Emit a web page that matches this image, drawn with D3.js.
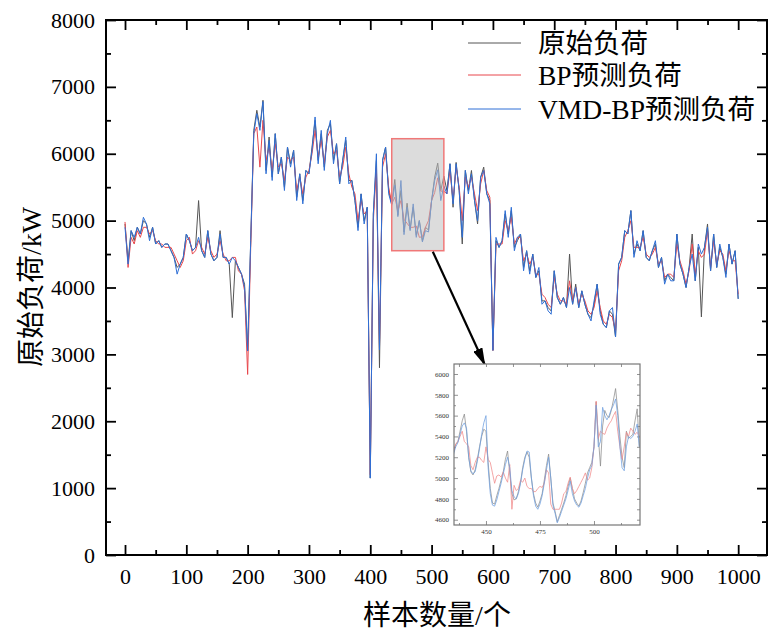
<!DOCTYPE html>
<html>
<head>
<meta charset="utf-8">
<script src="https://d3js.org/d3.v7.min.js"></script>
<style>
  body { margin: 0; background: #fff; }
  svg { display: block; }
</style>
</head>
<body>
<svg id="chart" width="768" height="633"></svg>
<script>
// main series: one value every STEP samples, from sample 0 to 1000
var STEP = 5;

var rawLoad = [
  4950,4400,4850,4700,4900,4800,5000,4950,4750,4900,
  4650,4700,4600,4650,4650,4550,4450,4300,4350,4450,
  4800,4700,4550,4600,5300,4550,4450,4850,4500,4400,
  4450,4850,4450,4450,4350,3550,4400,4300,4200,4050,
  3050,4700,6350,6650,6400,6800,5750,6250,5650,6300,
  5700,5950,5500,6100,5850,6050,5350,5700,5300,5750,
  5700,6100,6500,5900,6300,5800,6350,6450,5900,6150,
  5550,5900,6200,5600,5600,5300,4900,5400,5000,5200,
  1150,5100,5900,2800,5900,6100,5450,5250,5615,5080,
  5450,4830,5260,4870,5200,4780,5000,4700,4900,4860,
  5300,5650,5860,5450,5665,5450,5850,5200,5870,5450,
  4650,5750,5450,5750,5300,4950,5650,5800,5400,5300,
  3060,4700,4600,4700,5100,4800,5150,4600,4700,4800,
  4300,4550,4250,4500,4150,4250,3800,3800,3700,3650,
  4250,3850,3750,3850,3700,4500,3750,4050,3700,3950,
  3750,3600,3550,3750,4050,3650,3450,3400,3650,3600,
  3260,4350,4450,4850,4800,5150,4500,4650,4550,4850,
  4450,4400,4550,4650,4300,4450,4100,4200,4150,4100,
  4800,4350,4200,4000,4300,4800,4100,4600,3560,4600,
  4950,4250,4800,4300,4600,4450,4200,4650,4350,4550,
  3830
];

var bpLoad = [
  4980,4300,4750,4650,4850,4750,4900,4900,4800,4850,
  4700,4650,4650,4600,4600,4600,4500,4400,4300,4400,
  4700,4750,4500,4550,4700,4600,4500,4750,4550,4450,
  4500,4700,4500,4400,4400,4450,4450,4250,4200,3950,
  2700,4600,6300,6400,5800,6500,5900,6100,5750,6150,
  5800,5850,5600,5950,5900,5950,5450,5650,5400,5650,
  5750,6000,6350,5950,6200,5850,6250,6350,6000,6050,
  5650,5800,6100,5700,5500,5400,5000,5300,5100,5150,
  1200,5000,5800,3100,5800,6000,5500,5250,5350,5150,
  5300,5020,4960,4900,4900,4920,4750,4760,4900,5000,
  5300,5420,5640,5440,5440,5400,5750,5300,5800,5500,
  5000,5650,5500,5650,5400,5150,5550,5750,5450,5350,
  3060,4650,4650,4650,5000,4850,5050,4650,4750,4750,
  4400,4500,4350,4450,4200,4200,3900,3850,3750,3700,
  4150,3900,3800,3800,3750,4100,3800,4000,3750,3900,
  3800,3650,3600,3700,3950,3700,3500,3450,3600,3550,
  3350,4250,4400,4750,4850,5000,4600,4600,4600,4750,
  4500,4450,4500,4600,4350,4400,4150,4200,4200,4150,
  4650,4400,4250,4050,4250,4650,4200,4550,4450,4500,
  4850,4300,4700,4350,4550,4500,4250,4550,4400,4400,
  3900
];

var vmdLoad = [
  4900,4350,4850,4750,4900,4800,5050,4950,4700,4900,
  4650,4700,4600,4650,4650,4550,4450,4200,4350,4450,
  4800,4700,4550,4600,4750,4550,4450,4850,4500,4400,
  4450,4800,4450,4450,4350,4450,4400,4300,4200,4000,
  3050,4700,6300,6600,6350,6780,5700,6200,5600,6300,
  5700,5950,5450,6100,5800,6050,5300,5700,5250,5750,
  5700,6050,6550,5850,6350,5750,6300,6500,5850,6150,
  5550,5900,6250,5550,5600,5300,4850,5400,4950,5200,
  1150,5100,6000,3070,5900,6100,5400,5230,5530,5060,
  5600,4790,5200,4850,5250,4750,5000,4680,4850,4830,
  5300,5600,5760,5300,5520,5400,5850,5250,5850,5450,
  4750,5750,5400,5700,5300,5000,5650,5750,5400,5250,
  3060,4750,4600,4700,5150,4750,5200,4550,4750,4800,
  4250,4550,4200,4500,4150,4300,3750,3800,3650,3600,
  4250,3850,3750,3850,3700,4000,3750,4000,3700,3950,
  3750,3600,3500,3800,4050,3600,3450,3400,3650,3700,
  3260,4350,4450,4850,4800,5150,4450,4700,4550,4850,
  4450,4400,4550,4700,4300,4450,4050,4200,4100,4100,
  4800,4350,4200,4000,4300,4500,4100,4650,4500,4600,
  4900,4250,4800,4300,4650,4450,4150,4650,4350,4550,
  3830
];

// inset series: one value per sample, from sample 434 to 521
var zoomStart = 434;

var zoomRaw = [
  5150,5250,5320,5350,5450,5550,5615,5450,5200,5060,
  5030,5080,5180,5300,5400,5470,5450,5150,4900,4760,
  4750,4830,4900,4980,5060,5180,5260,5050,4850,4790,
  4800,4870,4960,5100,5200,5250,5200,5000,4850,4760,
  4720,4780,4850,4980,5120,5230,5000,4760,4680,4580,
  4640,4700,4760,4830,4920,5000,4900,4800,4760,4730,
  4780,4860,4950,5050,5100,5150,5300,5730,5400,5115,
  5500,5650,5600,5580,5650,5750,5860,5650,5400,5200,
  5100,5450,5380,5400,5420,5550,5665,5300
];

var zoomBp = [
  5100,5250,5330,5350,5400,5450,5350,5330,5300,5120,
  5080,5150,5200,5200,5170,5150,5300,5180,5150,5050,
  4950,5020,5030,5010,5060,5000,4960,5130,4700,4930,
  4880,4900,4980,4960,5000,4920,4900,4900,4870,4870,
  4900,4920,4910,4950,5080,5050,4750,4700,4700,4700,
  4700,4760,4850,4870,4950,5010,4900,4850,4880,4920,
  4960,5000,5050,4980,5000,5100,5300,5740,5380,5450,
  5430,5420,5480,5520,5550,5600,5640,5450,5300,5180,
  5300,5440,5400,5480,5450,5420,5440,5400
];

var zoomVmd = [
  5120,5230,5300,5340,5420,5500,5530,5480,5200,5070,
  5040,5060,5160,5280,5420,5530,5600,5100,4850,4740,
  4730,4790,4870,4950,5040,5130,5200,5100,4880,4820,
  4800,4850,4950,5080,5180,5260,5250,5010,4830,4730,
  4700,4750,4830,4950,5080,5200,5000,4740,4660,4570,
  4620,4680,4740,4800,4880,4970,4850,4780,4740,4720,
  4760,4830,4900,5000,5080,5120,5300,5700,5300,5350,
  5680,5600,5560,5600,5660,5700,5760,5600,5300,5100,
  5070,5300,5400,5380,5400,5450,5520,5300
];

var seriesNames = ['原始负荷', 'BP预测负荷', 'VMD-BP预测负荷'];
var seriesColors = ['#555555', '#e8474c', '#2e6fd6'];

var xTicks = d3.range(0, 1001, 100);
var xMinor = d3.range(50, 1000, 100);
var yTicks = d3.range(0, 8001, 1000);
var yMinor = d3.range(500, 8000, 1000);

// region that is blown up in the inset
var zoomBox = { x0: 435, x1: 520, y0: 4550, y1: 6225 };
var zoomXTicks = [450, 475, 500];
var zoomXMinor = [437.5, 462.5, 487.5, 512.5];
var zoomYTicks = d3.range(4600, 6001, 200);
var zoomYMinor = d3.range(4700, 6000, 200);

var serif = '"Liberation Serif","Times New Roman",serif';
var cnFont = '"Liberation Serif","Noto Sans CJK SC",serif';
var plain = d3.format('d');

var svg = d3.select('#chart');

var L = 106, R = 767, T = 20, B = 555;
var x = d3.scaleLinear().domain([-31, 1047]).range([L, R]);
var y = d3.scaleLinear().domain([0, 8000]).range([B, T]);

function styleAxis(g, size) {
  g.select('.domain').remove();
  g.selectAll('.tick line').attr('stroke', '#000').attr('stroke-width', size);
  g.selectAll('.tick text').attr('fill', '#000').style('font-family', serif);
}

// main axes, ticks point inward on all four sides
svg.append('g').attr('transform', 'translate(0,' + B + ')')
  .call(d3.axisBottom(x).tickValues(xTicks).tickFormat(plain).tickSize(-10).tickSizeOuter(0).tickPadding(13))
  .call(function(g) { styleAxis(g, 1.8); g.selectAll('text').style('font-size', '22px'); });
svg.append('g').attr('transform', 'translate(0,' + B + ')')
  .call(d3.axisBottom(x).tickValues(xMinor).tickSize(-5).tickSizeOuter(0).tickFormat(''))
  .call(function(g) { styleAxis(g, 1.8); });
svg.append('g').attr('transform', 'translate(0,' + T + ')')
  .call(d3.axisTop(x).tickValues(xTicks).tickSize(-10).tickSizeOuter(0).tickFormat(''))
  .call(function(g) { styleAxis(g, 1.8); });
svg.append('g').attr('transform', 'translate(0,' + T + ')')
  .call(d3.axisTop(x).tickValues(xMinor).tickSize(-5).tickSizeOuter(0).tickFormat(''))
  .call(function(g) { styleAxis(g, 1.8); });

svg.append('g').attr('transform', 'translate(' + L + ',0)')
  .call(d3.axisLeft(y).tickValues(yTicks).tickFormat(plain).tickSize(-10).tickSizeOuter(0).tickPadding(11))
  .call(function(g) { styleAxis(g, 1.8); g.selectAll('text').style('font-size', '22px'); });
svg.append('g').attr('transform', 'translate(' + L + ',0)')
  .call(d3.axisLeft(y).tickValues(yMinor).tickSize(-5).tickSizeOuter(0).tickFormat(''))
  .call(function(g) { styleAxis(g, 1.8); });
svg.append('g').attr('transform', 'translate(' + R + ',0)')
  .call(d3.axisRight(y).tickValues(yTicks).tickSize(-10).tickSizeOuter(0).tickFormat(''))
  .call(function(g) { styleAxis(g, 1.8); });
svg.append('g').attr('transform', 'translate(' + R + ',0)')
  .call(d3.axisRight(y).tickValues(yMinor).tickSize(-5).tickSizeOuter(0).tickFormat(''))
  .call(function(g) { styleAxis(g, 1.8); });

// clip + lines
svg.append('clipPath').attr('id', 'plotClip')
  .append('rect').attr('x', L).attr('y', T).attr('width', R - L).attr('height', B - T);

var mainLine = d3.line()
  .x(function(d, i) { return x(i * STEP); })
  .y(function(d) { return y(d); });

var plot = svg.append('g').attr('clip-path', 'url(#plotClip)');
[rawLoad, bpLoad, vmdLoad].forEach(function(s, k) {
  plot.append('path').datum(s)
    .attr('d', mainLine)
    .attr('fill', 'none')
    .attr('stroke', seriesColors[k])
    .attr('stroke-width', 1)
    .attr('stroke-linejoin', 'round');
});

svg.append('rect')
  .attr('x', L).attr('y', T).attr('width', R - L).attr('height', B - T)
  .attr('fill', 'none').attr('stroke', '#000').attr('stroke-width', 2);

// highlighted region
svg.append('rect')
  .attr('x', x(zoomBox.x0)).attr('y', y(zoomBox.y1))
  .attr('width', x(zoomBox.x1) - x(zoomBox.x0))
  .attr('height', y(zoomBox.y0) - y(zoomBox.y1))
  .attr('fill', '#c0c0c0').attr('fill-opacity', 0.55)
  .attr('stroke', '#f07878').attr('stroke-width', 1.5);

// inset
var iL = 454, iR = 640, iT = 364, iB = 525;
var ix = d3.scaleLinear().domain([435.2, 521.3]).range([iL, iR]);
var iy = d3.scaleLinear().domain([4549, 6096]).range([iB, iT]);

// arrow from the box to the inset
svg.append('defs').append('marker')
  .attr('id', 'arrowHead')
  .attr('viewBox', '0 0 18 10')
  .attr('refX', 17).attr('refY', 5)
  .attr('markerWidth', 18).attr('markerHeight', 10)
  .attr('markerUnits', 'userSpaceOnUse')
  .attr('orient', 'auto')
  .append('path').attr('d', 'M0,0L18,5L0,10z').attr('fill', '#000');

svg.append('line')
  .attr('x1', x(502)).attr('y1', y(zoomBox.y0) + 1)
  .attr('x2', ix(449.5)).attr('y2', iT + 1)
  .attr('stroke', '#000').attr('stroke-width', 2.2)
  .attr('marker-end', 'url(#arrowHead)');

var inset = svg.append('g');
inset.append('rect').attr('x', iL).attr('y', iT).attr('width', iR - iL).attr('height', iB - iT)
  .attr('fill', '#fff');

function styleInset(g) {
  g.select('.domain').remove();
  g.selectAll('.tick line').attr('stroke', '#777').attr('stroke-width', 0.8);
  g.selectAll('.tick text').attr('fill', '#333').style('font-family', serif).style('font-size', '7px');
}

inset.append('g').attr('transform', 'translate(0,' + iB + ')')
  .call(d3.axisBottom(ix).tickValues(zoomXTicks).tickFormat(plain).tickSize(-4).tickSizeOuter(0).tickPadding(4))
  .call(styleInset);
inset.append('g').attr('transform', 'translate(0,' + iB + ')')
  .call(d3.axisBottom(ix).tickValues(zoomXMinor).tickSize(-2).tickSizeOuter(0).tickFormat(''))
  .call(styleInset);
inset.append('g').attr('transform', 'translate(0,' + iT + ')')
  .call(d3.axisTop(ix).tickValues(zoomXTicks.concat(zoomXMinor)).tickSize(-3).tickSizeOuter(0).tickFormat(''))
  .call(styleInset);
inset.append('g').attr('transform', 'translate(' + iL + ',0)')
  .call(d3.axisLeft(iy).tickValues(zoomYTicks).tickFormat(plain).tickSize(-4).tickSizeOuter(0).tickPadding(5))
  .call(styleInset);
inset.append('g').attr('transform', 'translate(' + iL + ',0)')
  .call(d3.axisLeft(iy).tickValues(zoomYMinor).tickSize(-2).tickSizeOuter(0).tickFormat(''))
  .call(styleInset);
inset.append('g').attr('transform', 'translate(' + iR + ',0)')
  .call(d3.axisRight(iy).tickValues(zoomYTicks.concat(zoomYMinor)).tickSize(-3).tickSizeOuter(0).tickFormat(''))
  .call(styleInset);

inset.append('clipPath').attr('id', 'insetClip')
  .append('rect').attr('x', iL).attr('y', iT).attr('width', iR - iL).attr('height', iB - iT);

var insetLine = d3.line()
  .x(function(d, i) { return ix(zoomStart + i); })
  .y(function(d) { return iy(d); });

var insetColors = ['#8c8c8c', '#f08a8a', '#6f9fe0'];
var insetPlot = inset.append('g').attr('clip-path', 'url(#insetClip)');
[zoomRaw, zoomBp, zoomVmd].forEach(function(s, k) {
  insetPlot.append('path').datum(s)
    .attr('d', insetLine)
    .attr('fill', 'none')
    .attr('stroke', insetColors[k])
    .attr('stroke-width', 0.9)
    .attr('stroke-opacity', 0.85);
});

inset.append('rect').attr('x', iL).attr('y', iT).attr('width', iR - iL).attr('height', iB - iT)
  .attr('fill', 'none').attr('stroke', '#777').attr('stroke-width', 1.2);

// legend
var legend = svg.append('g');
var legendY = [43, 75, 109];
seriesNames.forEach(function(name, k) {
  legend.append('line')
    .attr('x1', 468).attr('x2', 521)
    .attr('y1', legendY[k]).attr('y2', legendY[k])
    .attr('stroke', seriesColors[k]).attr('stroke-width', 1);
  legend.append('text')
    .attr('x', 538).attr('y', legendY[k] + 10)
    .style('font-family', cnFont).style('font-size', '27.5px')
    .attr('fill', '#000')
    .text(name);
});

// axis titles
svg.append('text')
  .attr('transform', 'translate(41,287) rotate(-90)')
  .attr('text-anchor', 'middle')
  .style('font-family', cnFont).style('font-size', '28px')
  .text('原始负荷/kW');

svg.append('text')
  .attr('x', 437).attr('y', 625)
  .attr('text-anchor', 'middle')
  .style('font-family', cnFont).style('font-size', '28px')
  .text('样本数量/个');
</script>
</body>
</html>
